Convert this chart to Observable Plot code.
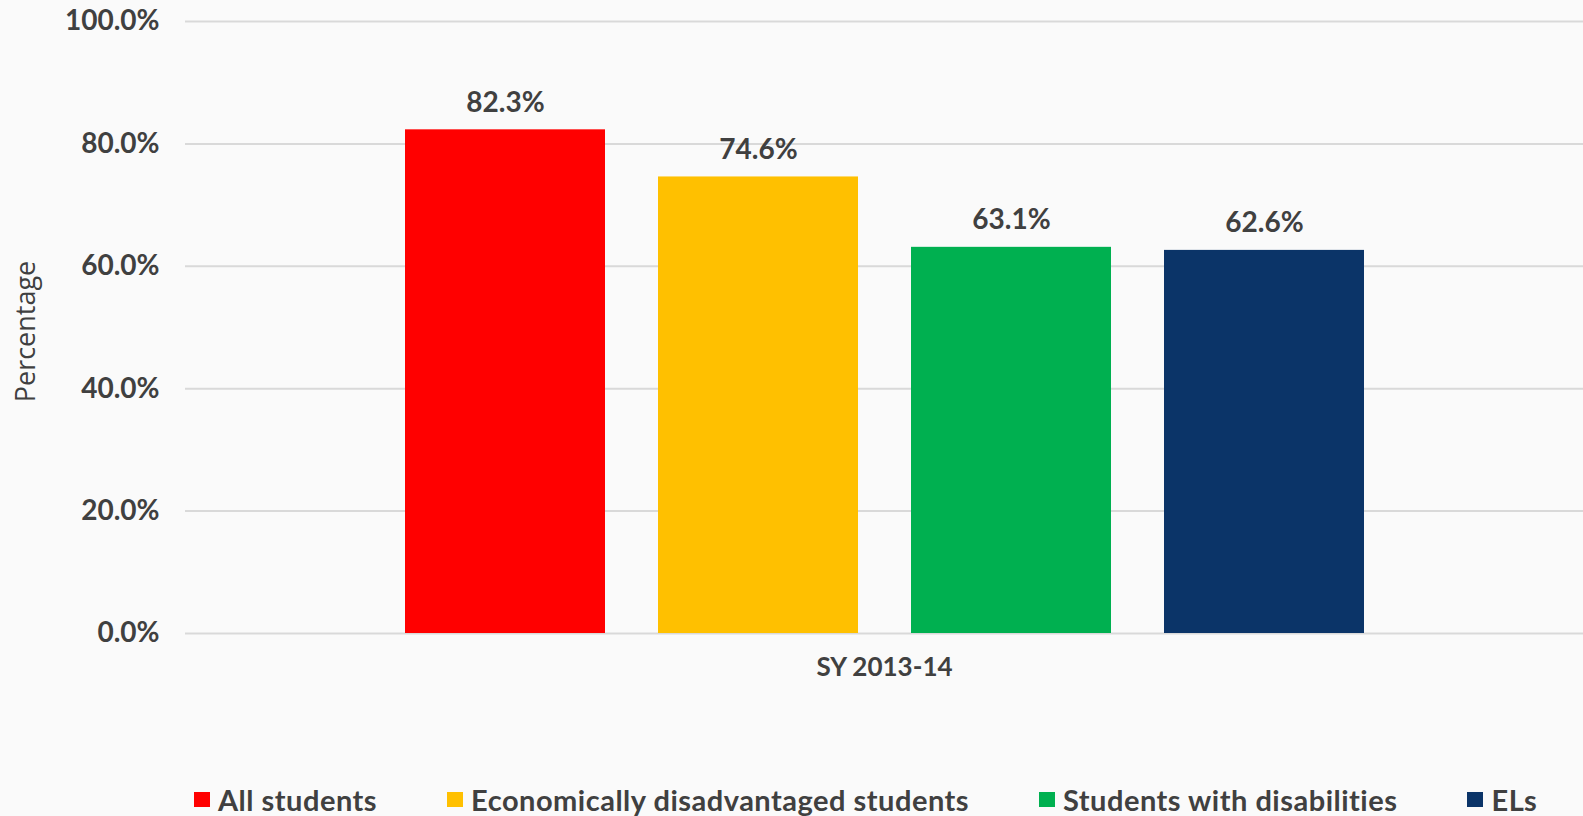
<!DOCTYPE html>
<html>
<head>
<meta charset="utf-8">
<script src="https://cdn.jsdelivr.net/npm/d3@7"></script>
<script src="https://cdn.jsdelivr.net/npm/@observablehq/plot@0.6"></script>
<style>
  html, body { margin: 0; padding: 0; background: #fafafa; }
  body { width: 1583px; height: 816px; overflow: hidden; font-family: Lato, "DejaVu Sans", sans-serif; color: #404040; }
  #legend { height: 46px; box-sizing: border-box; padding-top: 15px; padding-left: 194px; display: flex; gap: 70px; }
  .item { display: flex; align-items: center; height: 29px; font-size: 29px; line-height: 29px; font-weight: 700; letter-spacing: 0.5px; white-space: nowrap; }
  .sw { width: 16px; height: 15px; margin-right: 8px; flex: none; }
</style>
</head>
<body>
<div id="chart"></div>
<div id="legend"></div>
<script>
const group = "SY 2013-14";
const categories = ["All students", "Economically disadvantaged students", "Students with disabilities", "ELs"];
const values = [82.3, 74.6, 63.1, 62.6];
const colors = ["#ff0000", "#ffc000", "#00b050", "#0b3468"];
const yTicks = [0, 20, 40, 60, 80, 100];
const yTitle = "Percentage";

const data = categories.map((c, i) => ({group, category: c, value: values[i]}));
const pct = d => d.toFixed(1) + "%";

const chart = Plot.plot({
  width: 1583,
  height: 770,
  marginTop: 21,
  marginLeft: 185,
  marginRight: 0,
  marginBottom: 137,
  style: {background: "transparent", fontFamily: "Lato, 'DejaVu Sans', sans-serif", color: "#404040"},
  fx: {domain: [group], padding: 0},
  x: {domain: categories, paddingInner: 0.21, paddingOuter: 0.857, axis: null},
  y: {domain: [0, 100]},
  color: {domain: categories, range: colors},
  marks: [
    Plot.gridY(yTicks, {stroke: "#d9d9d9", strokeOpacity: 1, strokeWidth: 2}),
    Plot.barY(data, {fx: "group", x: "category", y: "value", fill: "category"}),
    Plot.text(data, {fx: "group", x: "category", y: "value", text: d => pct(d.value), dy: -27, fontSize: 28, fontWeight: 700, fill: "#404040"}),
    Plot.axisY(yTicks, {tickFormat: pct, tickSize: 0, tickPadding: 26, fontSize: 28, fontWeight: 700, fill: "#404040", label: null}),
    Plot.text([yTitle], {frameAnchor: "left", rotate: -90, textAnchor: "middle", lineAnchor: "middle", dx: -159, dy: 4, fontSize: 27, fill: "#404040", fontFamily: "'Open Sans', sans-serif"}),
    Plot.axisFx({anchor: "bottom", tickSize: 0, tickPadding: 24, fontSize: 26, fontWeight: 700, fill: "#404040", label: null})
  ]
});
document.getElementById("chart").appendChild(chart);

const legend = d3.select("#legend");
categories.forEach((c, i) => {
  const it = legend.append("div").attr("class", "item");
  it.append("div").attr("class", "sw").style("background", colors[i]);
  it.append("span").text(c);
});
</script>
</body>
</html>
